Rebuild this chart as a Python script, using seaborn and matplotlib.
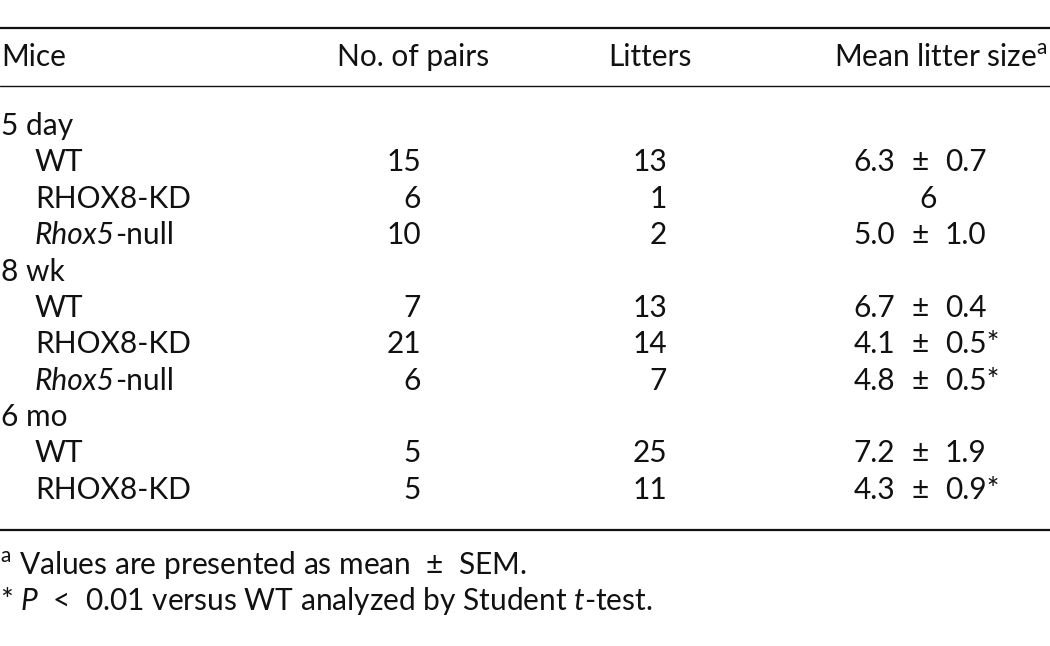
import pandas as pd
import matplotlib.pyplot as plt
import seaborn as sns

HEADERS = ["Mice", "No. of pairs", "Litters", "Mean litter size$^{\\mathrm{a}}$"]

AGES = ["5 day", "5 day", "5 day", "8 wk", "8 wk", "8 wk", "6 mo", "6 mo"]
MICE = ["WT", "RHOX8-KD", "Rhox5", "WT", "RHOX8-KD", "Rhox5", "WT", "RHOX8-KD"]
MICE_SUFFIX = ["", "", "-null", "", "", "-null", "", ""]
PAIRS = [15, 6, 10, 7, 21, 6, 5, 5]
LITTERS = [13, 1, 2, 13, 14, 7, 25, 11]
MEAN_SIZE = [6.3, 6, 5.0, 6.7, 4.1, 4.8, 7.2, 4.3]
SEM = [0.7, None, 1.0, 0.4, 0.5, 0.5, 1.9, 0.9]
SIGNIFICANT = [False, False, False, False, True, True, False, True]

FOOTNOTES = [
    "$^{\\mathrm{a}}$ Values are presented as mean  \u00b1  SEM.",
    "* $P$  <  0.01 versus WT analyzed by Student $t$-test.",
]


def build_table():
    df = pd.DataFrame({
        "age": AGES,
        "mice": MICE,
        "suffix": MICE_SUFFIX,
        "pairs": PAIRS,
        "litters": LITTERS,
        "mean": MEAN_SIZE,
        "sem": SEM,
        "sig": SIGNIFICANT,
    })
    return df


def draw_table(df):
    sns.set_theme(style="white")
    plt.rcParams["font.family"] = ["Lato", "DejaVu Sans"]
    plt.rcParams["mathtext.fontset"] = "custom"
    plt.rcParams["mathtext.rm"] = "Lato"
    plt.rcParams["mathtext.it"] = "Lato:italic"
    plt.rcParams["mathtext.bf"] = "Lato:bold"

    fs = 21.5
    color = "#111111"

    fig = plt.figure(figsize=(10.5, 6.46), dpi=100)
    ax = fig.add_axes([0, 0, 1, 1])
    # x in pixels, y in row units (row 0 = first age group)
    ax.set_xlim(0, 1050)
    ax.set_ylim(14.29, -3.46)
    ax.axis("off")

    x_mice, x_sub = 1, 35
    x_pairs, x_litters, x_pm = 421, 667, 920

    # rules
    ax.axhline(-2.69, color=color, lw=1.6)
    ax.axhline(-1.10, color=color, lw=1.0)

    # header
    ax.text(x_mice, -1.9, HEADERS[0], fontsize=fs, va="center", color=color)
    ax.text(489, -1.9, HEADERS[1], fontsize=fs, va="center", ha="right", color=color)
    ax.text(692, -1.9, HEADERS[2], fontsize=fs, va="center", ha="right", color=color)
    ax.text(1047, -1.9, HEADERS[3], fontsize=fs, va="center", ha="right", color=color)

    row = 0
    last_age = None
    for _, r in df.iterrows():
        if r["age"] != last_age:
            ax.text(x_mice, row, r["age"], fontsize=fs, va="center", color=color)
            last_age = r["age"]
            row += 1
        if r["suffix"]:
            t = ax.text(x_sub, row, r["mice"], fontsize=fs, va="center",
                        style="italic", color=color)
            ax.annotate(r["suffix"], xy=(1, 0), xycoords=t, va="bottom",
                        fontsize=fs, color=color)
        else:
            ax.text(x_sub, row, r["mice"], fontsize=fs, va="center", color=color)
        ax.text(x_pairs, row, str(r["pairs"]), fontsize=fs, va="center", ha="right", color=color)
        ax.text(x_litters, row, str(r["litters"]), fontsize=fs, va="center", ha="right", color=color)
        star = "*" if r["sig"] else ""
        if pd.isna(r["sem"]):
            ax.text(x_pm + 8, row, f"{int(r['mean'])}", fontsize=fs, va="center",
                    ha="center", color=color)
        else:
            ax.text(x_pm - 25, row, f"{r['mean']:.1f}", fontsize=fs, va="center",
                    ha="right", color=color)
            ax.text(x_pm, row, "\u00b1", fontsize=fs, va="center", ha="center", color=color)
            ax.text(x_pm + 25, row, f"{r['sem']:.1f}{star}", fontsize=fs, va="center",
                    ha="left", color=color)
        row += 1

    ax.axhline(11.1, color=color, lw=1.6)

    ax.text(0, 12.06, FOOTNOTES[0], fontsize=fs, va="center", color=color)
    ax.text(0, 13.05, FOOTNOTES[1], fontsize=fs, va="center", color=color)

    fig.savefig("out.png", dpi=100, facecolor="white")
    plt.close(fig)


def main():
    df = build_table()
    draw_table(df)


if __name__ == "__main__":
    main()
